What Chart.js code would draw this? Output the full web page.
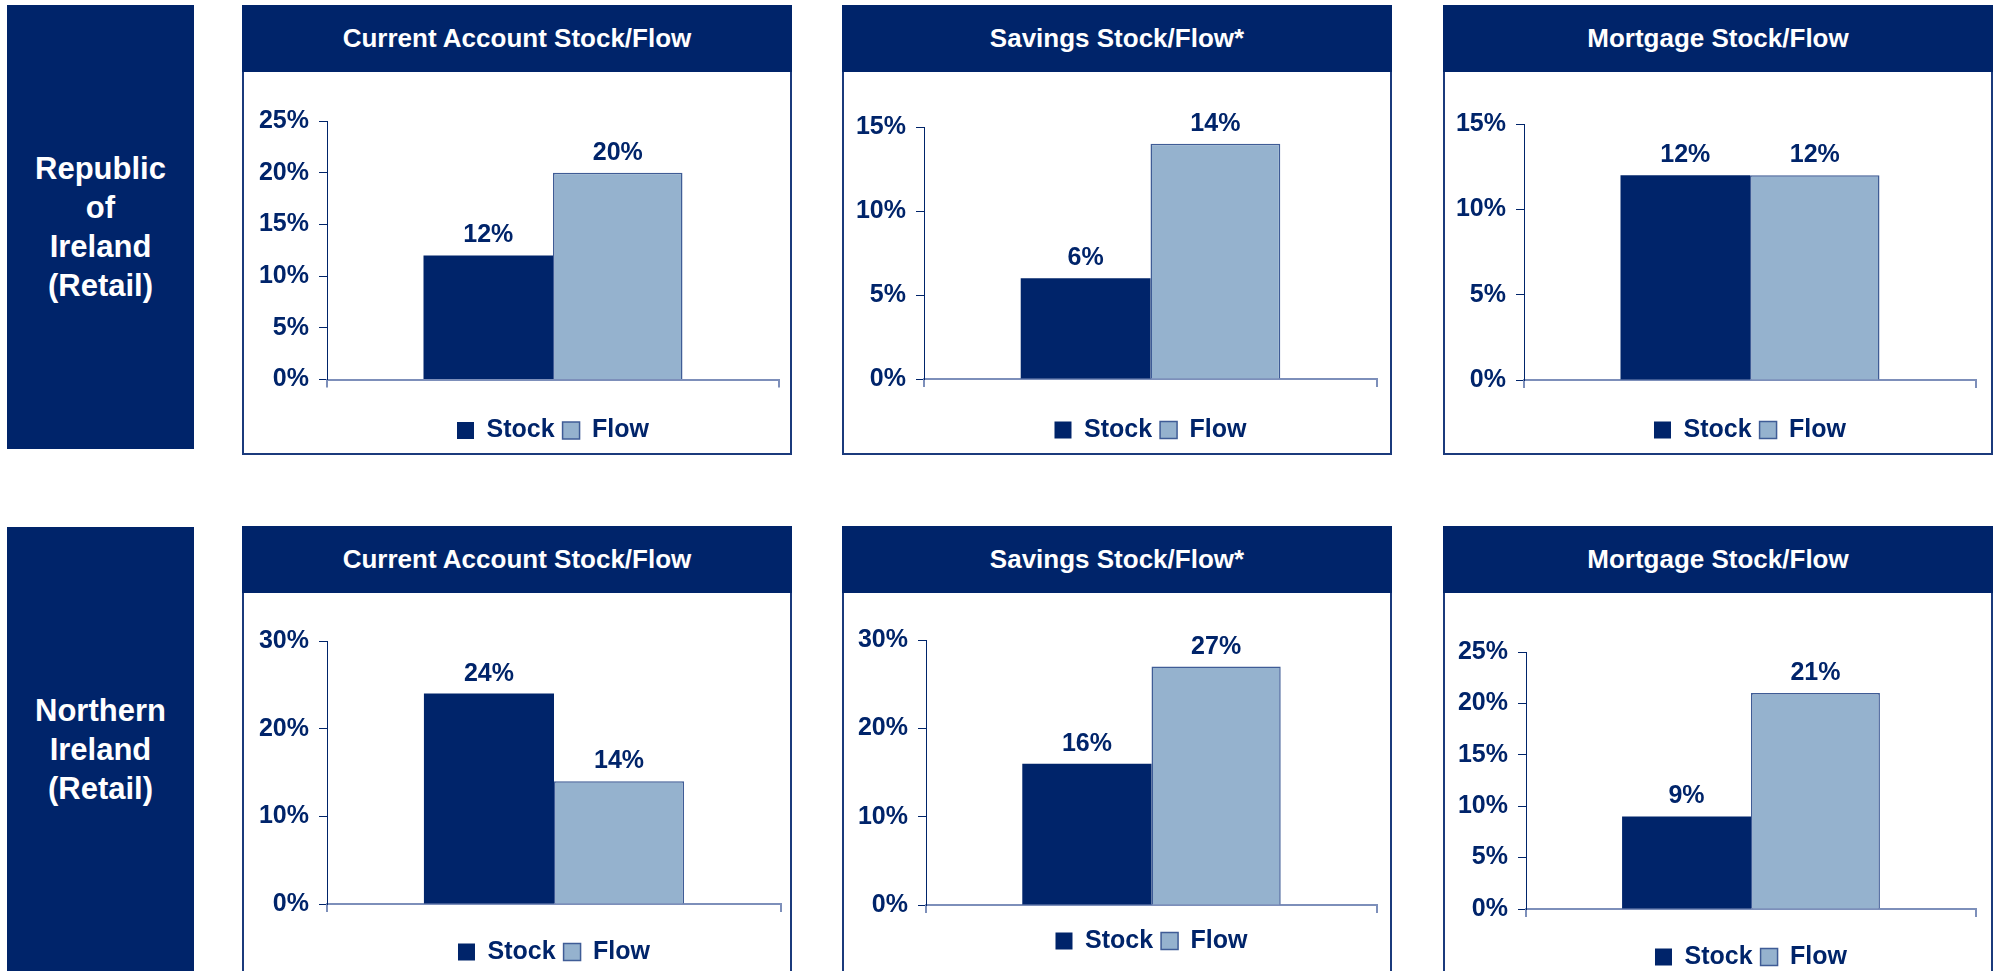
<!DOCTYPE html>
<html>
<head>
<meta charset="utf-8">
<title>Stock/Flow</title>
<script src="https://cdn.jsdelivr.net/npm/chart.js@4.4.0/dist/chart.umd.min.js"></script>
<style>
  html, body { margin: 0; padding: 0; background: #fff; }
  body {
    width: 1993px; height: 971px; position: relative; overflow: hidden;
    font-family: "Liberation Sans", Arial, sans-serif;
  }
  .row-label {
    position: absolute; left: 7px; width: 187px;
    background: #00246A; color: #fff; font-weight: bold;
    font-size: 31px; line-height: 39px; text-align: center;
    display: flex; align-items: center; justify-content: center;
  }
  .panel {
    position: absolute; width: 550px; box-sizing: border-box;
    border: 2px solid #1B3A7C; background: #fff;
  }
  .panel-head {
    position: absolute; left: -2px; right: -2px; top: -2px; height: 67px;
    background: #00246A; color: #fff; font-weight: bold; font-size: 26px;
    display: flex; align-items: center; justify-content: center;
  }
  .plot { position: absolute; left: 0; right: 0; top: 65px; bottom: 0; }
</style>
</head>
<body>
<script>
// 各パネルのデータ
const seriesNames = ['Stock', 'Flow'];
const panelTitles = ['Current Account Stock/Flow', 'Savings Stock/Flow*', 'Mortgage Stock/Flow'];
const rowLabels = [
    ['Republic', 'of', 'Ireland', '(Retail)'],
    ['Northern', 'Ireland', '(Retail)']
];
const roiStock = [12, 6, 12];
const roiFlow = [20, 14, 12];
const niStock = [24, 16, 9];
const niFlow = [14, 27, 21];
const roiAxisMax = [25, 15, 15];
const roiAxisStep = [5, 5, 5];
const niAxisMax = [30, 30, 25];
const niAxisStep = [10, 10, 5];

const NAVY = '#00246A';
const FLOW_BG = '#95B2CE';
const FLOW_EDGE = '#3F5C96';
const XAXIS = '#7D8FBA';
const FONT = '"Liberation Sans", Arial, sans-serif';

// レイアウト（ページ上のピクセル位置）
const panelLefts = [242, 842, 1443];
const rowBoxes = [
    { top: 5, height: 450, labelTop: 5, labelHeight: 444 },
    { top: 526, height: 460, labelTop: 527, labelHeight: 444 }
];
// axisX, xEnd, yTop, y0, legendY
const plotGeom = [
    [[327, 779, 121, 382, 433], [924, 1377, 127, 379, 430], [1524, 1976, 124, 380, 430]],
    [[327, 781, 641, 904, 952], [926, 1377, 640, 905, 941], [1526, 1976, 652, 909, 957]]
];

const LEGEND_PAD = 8;

const valueLabels = {
    id: 'valueLabels',
    afterDatasetsDraw(chart) {
        const ctx = chart.ctx;
        ctx.save();
        ctx.font = 'bold 25px ' + FONT;
        ctx.fillStyle = NAVY;
        ctx.textAlign = 'center';
        ctx.textBaseline = 'alphabetic';
        chart.data.datasets.forEach((ds, i) => {
            chart.getDatasetMeta(i).data.forEach((bar, j) => {
                ctx.fillText(ds.data[j] + '%', bar.x, bar.y - 13);
            });
        });
        ctx.restore();
    }
};

function buildChart(row, col, stock, flow, axisMax, axisStep) {
    const box = rowBoxes[row];
    const left = panelLefts[col];
    const panel = document.createElement('div');
    panel.className = 'panel';
    panel.style.left = left + 'px';
    panel.style.top = box.top + 'px';
    panel.style.height = box.height + 'px';
    const head = document.createElement('div');
    head.className = 'panel-head';
    head.textContent = panelTitles[col];
    panel.appendChild(head);
    const plot = document.createElement('div');
    plot.className = 'plot';
    const canvas = document.createElement('canvas');
    plot.appendChild(canvas);
    panel.appendChild(plot);
    document.body.appendChild(panel);

    const [axisX, xEnd, yTop, y0, legendY] = plotGeom[row][col];
    const canvasLeft = left + 2;
    const canvasRight = left + 548;
    const canvasTop = box.top + 67;
    const canvasBottom = box.top + box.height - 2;
    const legendTop = legendY - (LEGEND_PAD + 12.5);
    const legendHeight = 35 + LEGEND_PAD;

    new Chart(canvas, {
        type: 'bar',
        data: {
            labels: [''],
            datasets: [
                { label: seriesNames[0], data: [stock], backgroundColor: NAVY, borderColor: NAVY, borderWidth: 0 },
                { label: seriesNames[1], data: [flow], backgroundColor: FLOW_BG, borderColor: FLOW_EDGE, borderWidth: 1.5 }
            ]
        },
        options: {
            responsive: true,
            maintainAspectRatio: false,
            animation: false,
            categoryPercentage: 0.573,
            barPercentage: 1.0,
            layout: {
                padding: {
                    top: yTop - canvasTop,
                    left: 0,
                    right: canvasRight - xEnd,
                    bottom: Math.max(0, canvasBottom - (legendTop + legendHeight))
                }
            },
            plugins: {
                legend: {
                    position: 'bottom',
                    fullSize: false,
                    labels: {
                        boxWidth: 17,
                        boxHeight: 17,
                        padding: LEGEND_PAD,
                        color: NAVY,
                        font: { family: FONT, size: 25, weight: 'bold' }
                    }
                },
                tooltip: { enabled: false }
            },
            scales: {
                x: {
                    offset: true,
                    ticks: { display: false },
                    grid: { display: true, drawOnChartArea: false, tickLength: 8, color: XAXIS, lineWidth: 2, offset: true },
                    border: { display: true, color: XAXIS, width: 2 },
                    afterFit: s => { s.height = legendTop - y0; }
                },
                y: {
                    min: 0,
                    max: axisMax,
                    ticks: {
                        stepSize: axisStep,
                        padding: 10,
                        color: NAVY,
                        font: { family: FONT, size: 25, weight: 'bold' },
                        callback: v => v + '%'
                    },
                    grid: { display: true, drawOnChartArea: false, tickLength: 8, color: NAVY, lineWidth: 1 },
                    border: { display: true, color: NAVY, width: 1 },
                    afterFit: s => { s.width = axisX - canvasLeft; }
                }
            }
        },
        plugins: [valueLabels]
    });
}

// 行ラベル
rowLabels.forEach((lines, r) => {
    const div = document.createElement('div');
    div.className = 'row-label';
    div.style.top = rowBoxes[r].labelTop + 'px';
    div.style.height = rowBoxes[r].labelHeight + 'px';
    div.innerHTML = '<div>' + lines.join('<br>') + '</div>';
    document.body.appendChild(div);
});

for (let c = 0; c < 3; c++) {
    buildChart(0, c, roiStock[c], roiFlow[c], roiAxisMax[c], roiAxisStep[c]);
    buildChart(1, c, niStock[c], niFlow[c], niAxisMax[c], niAxisStep[c]);
}
</script>
</body>
</html>
